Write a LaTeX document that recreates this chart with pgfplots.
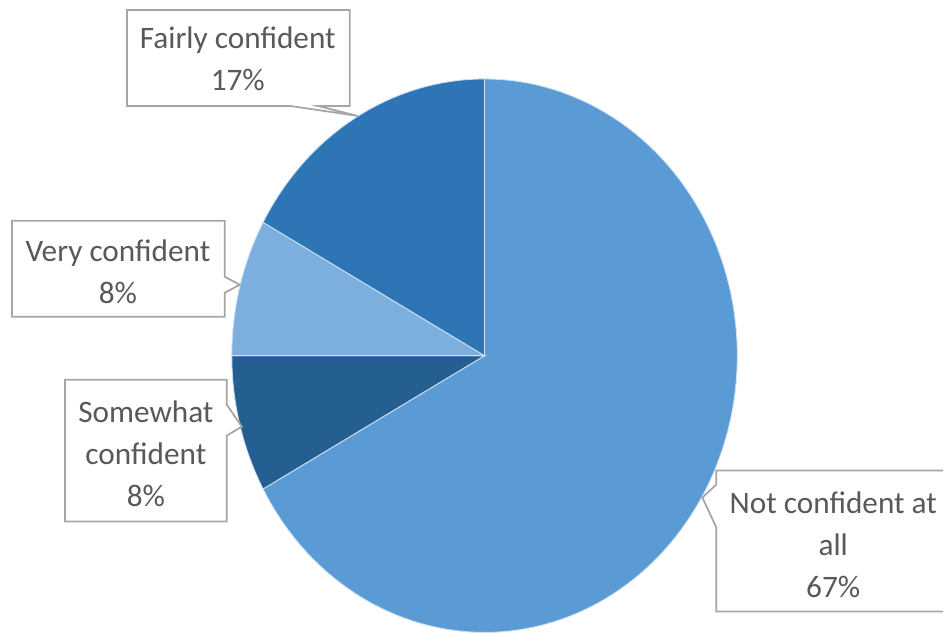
\documentclass[border=0pt]{standalone}
\usepackage{pgfplots}
\usepackage{pgfplotstable}
\pgfplotsset{compat=1.18}
\usepackage{fontspec}
\setmainfont{Carlito}

\definecolor{cNot}{HTML}{5B9BD5}
\definecolor{cSome}{HTML}{255E91}
\definecolor{cVery}{HTML}{7CAFDD}
\definecolor{cFair}{HTML}{2E75B6}
\definecolor{boxgray}{HTML}{A6A6A6}
\definecolor{txtgray}{HTML}{595959}

\pgfplotstableread{
label value
NotConfidentAtAll 67
SomewhatConfident 8
VeryConfident 8
FairlyConfident 17
}\piedata

\pgfplotstablegetelem{0}{value}\of\piedata \edef\vA{\pgfplotsretval}
\pgfplotstablegetelem{1}{value}\of\piedata \edef\vB{\pgfplotsretval}
\pgfplotstablegetelem{2}{value}\of\piedata \edef\vC{\pgfplotsretval}
\pgfplotstablegetelem{3}{value}\of\piedata \edef\vD{\pgfplotsretval}
\pgfmathsetmacro{\aZero}{90}
\pgfmathsetmacro{\aOne}{\aZero-3.6*\vA}
\pgfmathsetmacro{\aTwo}{\aOne-3.6*\vB}
\pgfmathsetmacro{\aThree}{\aTwo-3.6*\vC}
\pgfmathsetmacro{\aFour}{\aThree-3.6*\vD}

\begin{document}
\begin{tikzpicture}
\begin{axis}[
  width=94.4mm, height=63.4mm, scale only axis,
  xmin=0, xmax=944, ymin=0, ymax=634, y dir=reverse,
  hide axis, clip=false,
]
\path (axis cs:0,0) rectangle (axis cs:944,634);
% slices (center 485,356; radii 253 x 277)
\addplot[fill=cNot, draw=white!70!cNot, line width=0.25pt, domain=\aOne:\aZero, samples=120, variable=\t]
  ({485+253*cos(\t)},{356-277*sin(\t)}) -- (axis cs:485,356) -- cycle;
\addplot[fill=cSome, draw=white!70!cNot, line width=0.25pt, domain=\aTwo:\aOne, samples=30, variable=\t]
  ({485+253*cos(\t)},{356-277*sin(\t)}) -- (axis cs:485,356) -- cycle;
\addplot[fill=cVery, draw=white!70!cNot, line width=0.25pt, domain=\aThree:\aTwo, samples=30, variable=\t]
  ({485+253*cos(\t)},{356-277*sin(\t)}) -- (axis cs:485,356) -- cycle;
\addplot[fill=cFair, draw=white!70!cNot, line width=0.25pt, domain=\aFour:\aThree, samples=50, variable=\t]
  ({485+253*cos(\t)},{356-277*sin(\t)}) -- (axis cs:485,356) -- cycle;

% callout boxes
\begin{scope}[draw=boxgray, line width=0.5pt, fill=white, line join=miter]
\filldraw (axis cs:127,106) -- (axis cs:127,10) -- (axis cs:350,10) -- (axis cs:350,106)
  -- (axis cs:318,106) -- (axis cs:358,116) -- (axis cs:290,106) -- cycle;
\filldraw (axis cs:12,221) -- (axis cs:225,221) -- (axis cs:225,277) -- (axis cs:240,285)
  -- (axis cs:225,293) -- (axis cs:225,317) -- (axis cs:12,317) -- cycle;
\filldraw (axis cs:65,380) -- (axis cs:227,380) -- (axis cs:227,405) -- (axis cs:242,427)
  -- (axis cs:227,436) -- (axis cs:227,522) -- (axis cs:65,522) -- cycle;
\fill (axis cs:944,471) -- (axis cs:717,471) -- (axis cs:717,485) -- (axis cs:703,498)
  -- (axis cs:717,528) -- (axis cs:717,612) -- (axis cs:944,612) -- cycle;
\draw (axis cs:944,471) -- (axis cs:717,471) -- (axis cs:717,485) -- (axis cs:703,498)
  -- (axis cs:717,528) -- (axis cs:717,612) -- (axis cs:944,612);
\end{scope}

\begin{scope}[every node/.style={text=txtgray, align=center, inner sep=0pt,
  font=\fontsize{8.9}{11.95}\selectfont}]
\node at (axis cs:238,59) {Fairly confident\\17\%};
\node at (axis cs:118,272) {Very confident\\8\%};
\node at (axis cs:146,454) {Somewhat\\confident\\8\%};
\node at (axis cs:834,545) {Not confident at\\all\\67\%};
\end{scope}
\end{axis}
\end{tikzpicture}
\end{document}
